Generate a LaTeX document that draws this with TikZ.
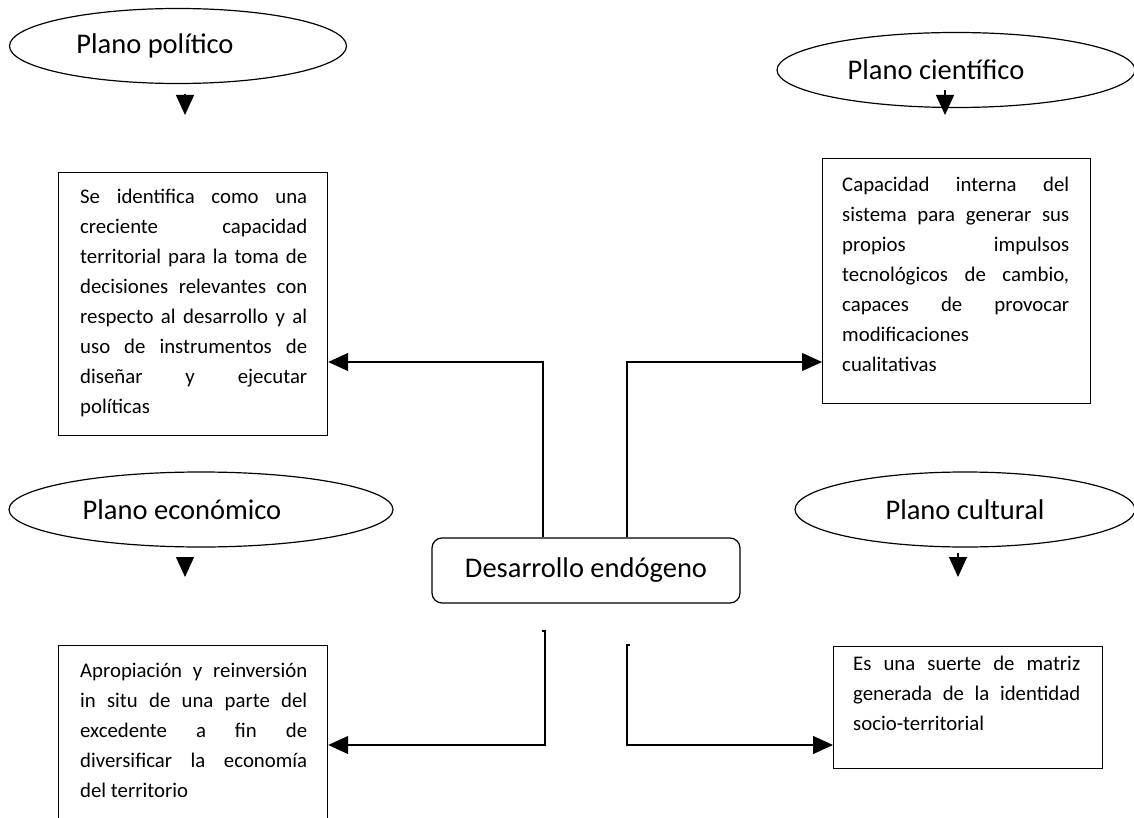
\documentclass[tikz,border=0pt]{standalone}
\usepackage{fontspec}
\setmainfont{Carlito}
\usepackage{tikz}
\usetikzlibrary{shapes.geometric, arrows.meta}

\newcommand{\just}[1]{\noindent\makebox[227pt][s]{\strut #1}\par}
\newcommand{\izq}[1]{\noindent\strut #1\par}

\tikzset{
    plano/.style={draw, ellipse, line width=1.2pt, minimum height=75pt, inner sep=0pt},
    planotxt/.style={inner sep=0pt, font=\fontsize{28.5}{34}\selectfont},
    caja/.style={draw, rectangle, line width=1.2pt, anchor=north west, inner sep=0pt},
    cajatxt/.style={anchor=north west, inner sep=0pt, text width=227pt, align=justify,
        font=\fontsize{20.8}{30}\selectfont},
    centro/.style={draw, rounded corners=10pt, line width=1.2pt, minimum width=308pt,
        minimum height=65pt, font=\fontsize{28.5}{34}\selectfont},
    flecha/.style={line width=1.2pt, -{Triangle[length=20pt,width=18pt]}}
}

\begin{document}
\begin{tikzpicture}[x=1pt, y=-1pt]
        \useasboundingbox (0,0) rectangle (1134,818);

        \node [plano, minimum width=337pt] (pol) at (178,46) {};
        \node [planotxt] (poltit) at ([xshift=-23pt]pol.center) {Plano político};
        \node [plano, minimum width=358pt] (cien) at (956,70) {};
        \node [planotxt] (cientit) at ([xshift=-20pt]cien.center) {Plano científico};
        \node [plano, minimum width=384pt] (eco) at (201,509.5) {};
        \node [planotxt] (ecotit) at ([xshift=-19pt]eco.center) {Plano económico};
        \node [plano, minimum width=340pt] (cult) at (965,509.5) {};
        \node [planotxt] (culttit) at (cult.center) {Plano cultural};

        \coordinate (polA) at (185,94);
        \coordinate (polB) at (185,115);
        \coordinate (cienA) at (945,90);
        \coordinate (cienB) at (945,115);
        \coordinate (ecoA) at (185,557);
        \coordinate (ecoB) at (185,577);
        \coordinate (cultA) at (958,553);
        \coordinate (cultB) at (958,577);
        \draw [flecha] (polA) -- (polB);
        \draw [flecha] (cienA) -- (cienB);
        \draw [flecha] (ecoA) -- (ecoB);
        \draw [flecha] (cultA) -- (cultB);

        \node [caja, minimum width=269pt, minimum height=263pt] (polbox) at (58,172) {};
        \node [cajatxt] (poltxt) at (80,182) {%
            \just{Se identifica como una}
            \just{creciente capacidad}
            \just{territorial para la toma de}
            \just{decisiones relevantes con}
            \just{respecto al desarrollo y al}
            \just{uso de instrumentos de}
            \just{diseñar y ejecutar}
            \izq{políticas}};

        \node [caja, minimum width=268pt, minimum height=245pt] (cienbox) at (822,158) {};
        \node [cajatxt] (cientxt) at (842,170) {%
            \just{Capacidad interna del}
            \just{sistema para generar sus}
            \just{propios impulsos}
            \just{tecnológicos de cambio,}
            \just{capaces de provocar}
            \izq{modificaciones}
            \izq{cualitativas}};

        \node [caja, minimum width=269pt, minimum height=195pt] (ecobox) at (58,645) {};
        \node [cajatxt] (ecotxt) at (80,656) {%
            \just{Apropiación y reinversión}
            \just{in situ de una parte del}
            \just{excedente a fin de}
            \just{diversificar la economía}
            \izq{del territorio}};

        \node [caja, minimum width=269pt, minimum height=122pt] (cultbox) at (833,646) {};
        \node [cajatxt] (culttxt) at (853,649) {%
            \just{Es una suerte de matriz}
            \just{generada de la identidad}
            \izq{socio-territorial}};

        \node [centro] (des) at (586,570.5) {Desarrollo endógeno};

        \draw [flecha] (des.north -| 543,0) |- (polbox.east |- 0,362);
        \draw [flecha] (des.north -| 627,0) |- (cienbox.west |- 0,362);

        \coordinate (bajoI) at (542,631);
        \coordinate (bajoD) at (630,645);
        \draw [flecha] (bajoI) -- ++(3,0) |- (ecobox.east |- 0,745);
        \draw [flecha] (bajoD) -- ++(-3,0) |- (cultbox.west |- 0,745);
    \end{tikzpicture}
\end{document}
